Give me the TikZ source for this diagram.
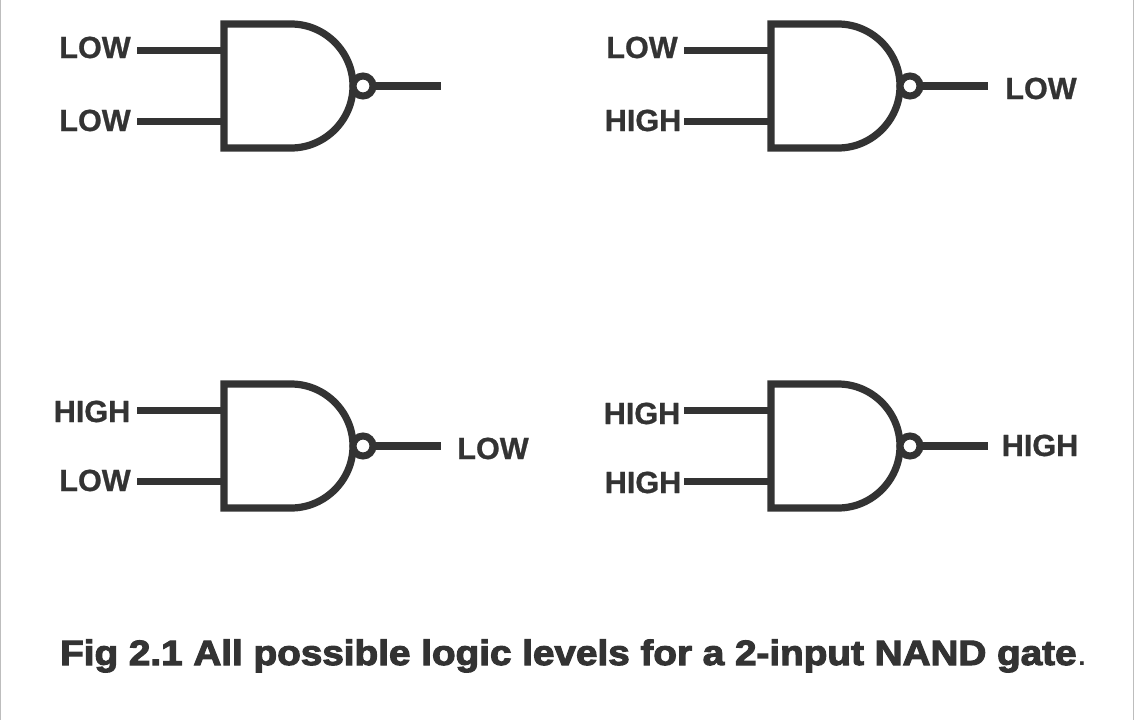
\documentclass[tikz,border=0pt]{standalone}
\usepackage{fontspec}
\setmainfont{Liberation Sans}
\usepackage{graphicx}
\newfontfamily\capfont[FakeBold=3]{Liberation Sans Bold}
\newfontfamily\labfont[FakeBold=0.8]{Liberation Sans Bold}
\tikzset{
  x=1pt,y=-1pt,
  wire/.style={draw=ink,line width=7.2pt},
  bubble/.style={circle,draw=ink,line width=7pt,fill=white,minimum size=20pt,inner sep=0pt,outer sep=0pt},
  lab/.style={font=\fontsize{30.6}{31}\labfont,text=ink,inner sep=0pt,anchor=base},
  capt/.style={text=ink,inner sep=0pt,anchor=base west},
  pics/nandgate/.style={code={
    \draw[wire,line join=miter] (0,-62) -- (67,-62) .. controls (101,-62) and (129,-34) .. (129,0) .. controls (129,34) and (101,62) .. (67,62) -- (0,62) -- cycle;
    \coordinate (-in1) at (0,-35.7);
    \coordinate (-in2) at (0,35.3);
    \coordinate (-s1) at (-87,-35.7);
    \coordinate (-s2) at (-87,35.3);
    \coordinate (-e) at (217,0);
    \draw[wire] (139,0) -- (-e);
    \node[bubble] (-b) at (139,0) {};
    \draw[wire] (-s1) -- (-in1);
    \draw[wire] (-s2) -- (-in2);
  }}
}
\definecolor{ink}{HTML}{333333}
\definecolor{edge}{HTML}{BDBDBD}
\begin{document}
\begin{tikzpicture}
\useasboundingbox (0,0) rectangle (1134,720);
\fill[white] (0,0) rectangle (1134,720);
\coordinate (lt) at (0.5,0); \coordinate (lb) at (0.5,720);
\coordinate (rt) at (1133.5,0); \coordinate (rb) at (1133.5,720);
\draw[edge,line width=1.2pt] (lt) -- (lb);
\draw[edge,line width=1.2pt] (rt) -- (rb);
\pic (g1) at (224,86) {nandgate};
\pic (g2) at (771,86) {nandgate};
\pic (g3) at (224,446) {nandgate};
\pic (g4) at (771,446) {nandgate};
\node[lab] (a1) at (95,58) {LOW};
\node[lab] (a2) at (95,131) {LOW};
\node[lab] (b1) at (642,58) {LOW};
\node[lab] (b2) at (643,131) {HIGH};
\node[lab] (b3) at (1041,99) {LOW};
\node[lab] (c1) at (92,422) {HIGH};
\node[lab] (c2) at (95,491) {LOW};
\node[lab] (c3) at (493,459) {LOW};
\node[lab] (d1) at (642,424) {HIGH};
\node[lab] (d2) at (643,493) {HIGH};
\node[lab] (d3) at (1040,456) {HIGH};
\node[capt] (cap) at (60,665) {\resizebox{1027pt}{25.5pt}{\fontsize{33}{33}\selectfont\capfont Fig 2.1 All possible logic levels for a 2-input NAND gate\normalfont\mdseries.}};
\end{tikzpicture}
\end{document}
